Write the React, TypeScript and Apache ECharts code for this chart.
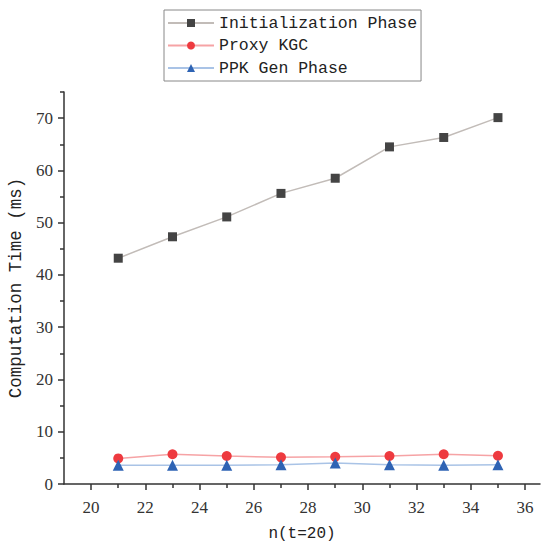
import React, { useEffect, useRef } from "react";
import * as echarts from "echarts";

const nValues = [21, 23, 25, 27, 29, 31, 33, 35];
const initPhase = [43.2, 47.3, 51.1, 55.6, 58.5, 64.5, 66.3, 70.1];
const proxyKGC = [4.9, 5.7, 5.35, 5.1, 5.2, 5.35, 5.7, 5.4];
const ppkGen = [3.6, 3.6, 3.6, 3.7, 4.0, 3.7, 3.6, 3.7];
const xMajorTicks = [20, 22, 24, 26, 28, 30, 32, 34, 36];
const xMinorTicks = [21, 23, 25, 27, 29, 31, 33, 35];
const yMajorTicks = [0, 10, 20, 30, 40, 50, 60, 70];
const yMinorTicks = [5, 15, 25, 35, 45, 55, 65, 75];

const AXIS_COLOR = "#333";
const MONO = "'Liberation Mono', monospace";
const SERIF = "'Liberation Serif', serif";

const App: React.FC = () => {
  const ref = useRef<HTMLDivElement>(null);
  useEffect(() => {
    if (!ref.current) return;
    const chart = echarts.init(ref.current, null, { renderer: "svg" });
    const grid = { left: 64, top: 92, right: 4, bottom: 59, outerBoundsMode: "none", containLabel: false };
    const xBase = { type: "value", min: 19, max: 36.55, splitLine: { show: false } };
    const yBase = { type: "value", min: 0, max: 75, splitLine: { show: false } };
    const mk = (vals: number[]) => nValues.map((n, i) => [n, vals[i]]);
    chart.setOption({
      animation: false,
      backgroundColor: "#fff",
      grid,
      legend: {
        orient: "vertical",
        left: 164,
        top: 10,
        padding: [3, 4, 3, 3],
        itemGap: 2.5,
        itemWidth: 46,
        itemHeight: 10,
        borderColor: "#888",
        borderWidth: 1,
        textStyle: { fontFamily: MONO, fontSize: 16.5, color: "#222", lineHeight: 20 },
        data: ["Initialization Phase", "Proxy KGC", "PPK Gen Phase"],
      },
      xAxis: [
        {
          ...xBase,
          name: "n(t=20)",
          nameLocation: "middle",
          nameGap: 42,
          nameTextStyle: { fontFamily: MONO, fontSize: 16, color: "#222" },
          axisLine: { show: true, lineStyle: { color: AXIS_COLOR, width: 1.5 } },
          axisTick: { show: true, length: 6, customValues: xMajorTicks, lineStyle: { color: AXIS_COLOR, width: 1.5 } },
          axisLabel: { customValues: xMajorTicks, margin: 15, fontFamily: SERIF, fontSize: 17, color: "#333" },
        },
        {
          ...xBase,
          position: "bottom",
          axisLine: { show: false },
          axisTick: { show: true, length: 4, customValues: xMinorTicks, lineStyle: { color: AXIS_COLOR, width: 1.5 } },
          axisLabel: { show: false },
        },
      ],
      yAxis: [
        {
          ...yBase,
          name: "Computation Time (ms)",
          nameLocation: "middle",
          nameGap: 34,
          nameTextStyle: { fontFamily: MONO, fontSize: 17.5, color: "#222" },
          axisLine: { show: true, lineStyle: { color: AXIS_COLOR, width: 1.5 } },
          axisTick: { show: true, length: 6, customValues: yMajorTicks, lineStyle: { color: AXIS_COLOR, width: 1.5 } },
          axisLabel: { customValues: yMajorTicks, margin: 11, fontFamily: SERIF, fontSize: 17, color: "#333" },
        },
        {
          ...yBase,
          position: "left",
          axisLine: { show: false },
          axisTick: { show: true, length: 4, customValues: yMinorTicks, lineStyle: { color: AXIS_COLOR, width: 1.5 } },
          axisLabel: { show: false },
        },
      ],
      series: [
        {
          name: "Initialization Phase",
          type: "line",
          data: mk(initPhase),
          symbol: "rect",
          symbolSize: 9,
          itemStyle: { color: "#444" },
          lineStyle: { color: "#c2bcb8", width: 1.5 },
        },
        {
          name: "Proxy KGC",
          type: "line",
          data: mk(proxyKGC),
          symbol: "circle",
          symbolSize: 10,
          itemStyle: { color: "#ee3a3f" },
          lineStyle: { color: "#f6a3a5", width: 1.5 },
        },
        {
          name: "PPK Gen Phase",
          type: "line",
          data: mk(ppkGen),
          symbol: "triangle",
          symbolSize: 11,
          itemStyle: { color: "#2e63b4" },
          lineStyle: { color: "#a9c3e6", width: 1.5 },
        },
      ],
    });
    return () => chart.dispose();
  }, []);
  return <div ref={ref} style={{ width: 544, height: 543, position: "absolute", left: 0, top: 0 }} />;
};

export default App;
